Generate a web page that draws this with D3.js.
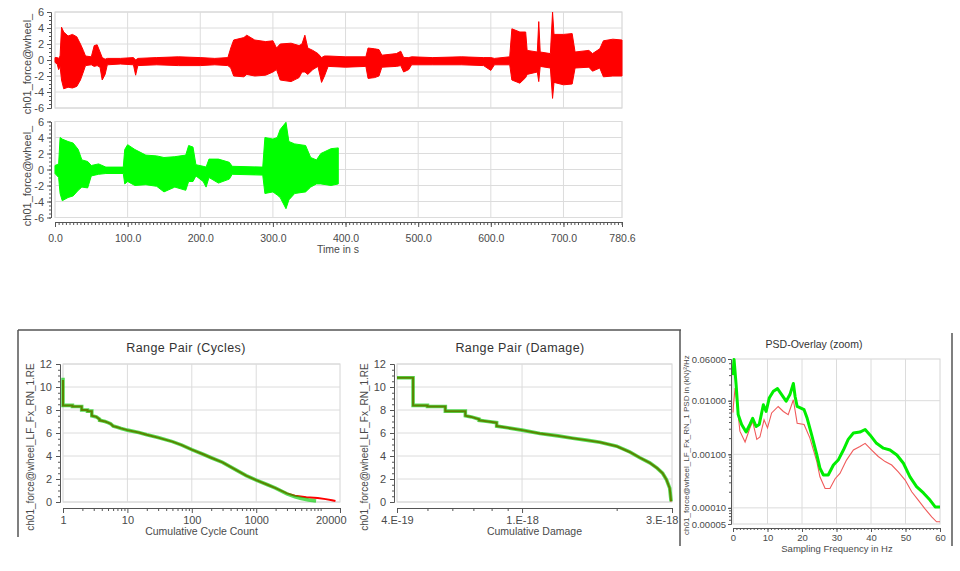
<!DOCTYPE html>
<html><head><meta charset="utf-8">
<script src="https://cdn.jsdelivr.net/npm/d3@7"></script>
<style>
body{margin:0;background:#fff;}
svg text{font-family:"Liberation Sans",Arial,sans-serif;}
</style></head><body>
<svg id="c" width="960" height="571"></svg>
<script>
// ---------- DATA ----------
const timeTicks = [0,100,200,300,400,500,600,700,780.6];
const forceTicks = [-6,-4,-2,0,2,4,6];
// envelope (max / min) of the time signals
const redT  = [0,3,5,7,9,12,18,24,30,35,39,42,50,54,58,62,65,69,72,90,108,111,114,140,170,200,220,238,242,246,260,264,275,290,300,305,310,325,336,340,344,348,355,362,367,371,376,400,428,431,440,446,450,470,476,480,487,491,520,560,590,600,605,626,629,640,648,650,664,666,668,682,685,687,700,712,716,735,740,750,755,768,780.6];
const redHi = [0.3,0.3,0.2,0.5,4.1,3.5,3.0,3.2,2.9,2.0,1.2,0.5,0.4,1.8,1.9,1.0,0.3,0.1,0.2,0.2,0.3,0.0,0.2,0.3,0.4,0.3,0.2,0.3,1.5,2.5,2.8,3.1,2.5,2.3,2.4,1.5,2.0,2.1,1.8,2.0,3.1,1.5,1.2,0.8,0.3,0.5,0.5,0.4,0.4,1.5,1.4,1.3,0.6,0.8,1.1,0.3,0.3,0.4,0.3,0.4,0.3,0.3,0.2,0.4,3.9,3.5,3.5,1.2,1.0,4.8,1.0,0.8,6.0,3.2,3.2,3.3,1.0,1.2,0.8,1.4,2.4,2.6,2.5];
const redLo = [-0.3,-0.5,-1.2,-0.8,-2.5,-3.6,-3.4,-3.5,-3.3,-2.5,-1.5,-0.7,-0.6,-0.8,-0.7,-0.9,-2.5,-1.8,-0.6,-0.5,-0.6,-1.9,-0.7,-0.6,-0.7,-0.7,-0.6,-0.7,-1.0,-2.0,-2.1,-1.8,-2.0,-1.9,-1.5,-1.2,-2.5,-2.7,-2.2,-1.5,-1.5,-1.8,-1.2,-0.8,-2.8,-2.0,-0.8,-0.9,-0.8,-2.3,-2.2,-2.0,-0.9,-0.8,-0.7,-1.5,-1.2,-0.6,-0.6,-0.6,-0.7,-1.3,-0.6,-0.6,-2.5,-2.9,-2.2,-1.8,-1.5,-2.7,-0.8,-1.0,-4.8,-2.8,-3.1,-3.0,-1.0,-0.9,-1.4,-1.0,-2.1,-2.0,-2.0];
const greenT  = [0,5,7,10,18,25,32,37,45,50,60,70,94,96,100,110,125,140,150,165,180,184,190,194,204,208,212,225,240,244,286,289,300,306,310,318,322,330,345,352,360,366,380,390];
const greenHi = [0.5,0.7,4.0,3.8,3.5,3.3,2.5,1.2,1.0,0.5,0.7,0.3,0.3,2.5,3.1,2.5,1.8,1.7,1.5,1.6,1.8,3.0,2.8,0.6,0.4,0.3,1.3,1.3,0.9,0.4,0.3,4.0,3.8,4.0,5.0,5.9,3.5,3.2,3.0,1.5,1.2,2.0,2.6,2.7];
const greenLo = [-0.5,-1.0,-3.0,-3.9,-3.5,-3.3,-2.6,-2.2,-2.3,-0.8,-0.6,-0.5,-0.5,-1.8,-1.5,-2.0,-1.9,-2.1,-2.8,-2.2,-2.6,-1.5,-1.5,-0.8,-1.5,-2.2,-1.0,-1.7,-1.2,-0.6,-0.7,-3.0,-2.8,-3.2,-3.5,-4.9,-3.8,-3.0,-2.8,-2.2,-1.8,-1.8,-2.0,-1.8];

// Range pair (cycles)
const cycTicks = [1,10,100,1000,20000];
const rangeTicks = [0,2,4,6,8,10,12];
const cycGreenN = [1,1,1.4,1.4,1.95,1.95,2.4,2.4,2.8,2.8,3.3,3.7,3.7,4.5,5,5.5,6,7,8,10,15,20,30,50,70,100,150,200,300,500,700,1000,1500,2000,3000,4000,5000,6500,8500];
const cycGreenR = [10.8,8.4,8.4,8.3,8.3,8.0,8.0,7.9,7.9,7.5,7.4,7.2,7.1,7.0,6.9,6.8,6.6,6.5,6.4,6.25,6.05,5.85,5.6,5.25,4.95,4.55,4.15,3.85,3.45,2.75,2.3,1.9,1.5,1.2,0.7,0.45,0.3,0.18,0.08];
const cycRedN = [1,1,1.4,1.4,1.95,1.95,2.4,2.4,2.8,2.8,3.3,3.7,3.7,4.5,5,5.5,6,7,8,10,15,20,30,50,70,100,150,200,300,500,700,1000,1500,2000,3000,4000,6000,9000,12000,15000,17000];
const cycRedR = [10.6,8.4,8.4,8.3,8.3,8.0,8.0,7.9,7.9,7.5,7.4,7.2,7.1,7.0,6.9,6.8,6.6,6.5,6.4,6.25,6.05,5.85,5.6,5.25,4.95,4.55,4.15,3.85,3.45,2.75,2.3,1.9,1.5,1.2,0.75,0.55,0.42,0.35,0.25,0.15,0.08];

// Range pair (damage)
const damTicks = [4e-19,1e-18,3e-18];
const damTickLabels = ["4.E-19","1.E-18","3.E-18"];
const damX = [4e-19,4.5e-19,4.5e-19,5.0e-19,5.0e-19,5.7e-19,5.7e-19,6.6e-19,6.6e-19,6.9e-19,7.3e-19,7.3e-19,7.8e-19,8.3e-19,8.3e-19,9e-19,1e-18,1.14e-18,1.3e-18,1.45e-18,1.6e-18,1.77e-18,2.0e-18,2.2e-18,2.37e-18,2.55e-18,2.69e-18,2.8e-18,2.88e-18,2.95e-18,2.98e-18];
const damRedR   = [10.8,10.8,8.4,8.4,8.3,8.3,7.9,7.9,7.5,7.4,7.2,7.1,7.0,6.9,6.6,6.45,6.25,5.95,5.75,5.55,5.38,5.2,4.85,4.35,3.85,3.4,2.95,2.5,1.95,1.2,0.05];
const damGreenR = [10.8,10.8,8.4,8.4,8.3,8.3,7.9,7.9,7.5,7.4,7.2,7.1,7.0,6.9,6.6,6.45,6.25,5.95,5.75,5.55,5.38,5.2,4.85,4.35,3.85,3.4,2.95,2.5,1.95,1.2,0.05];

// PSD overlay
const freqTicks = [0,10,20,30,40,50,60];
const psdTicks = [0.06,0.01,0.001,0.0001,0.00005];
const psdGreenF = [0,0.3,0.9,1.5,2.5,3.8,4.9,5.7,6.7,7.6,8.8,9.6,10.5,11.7,12.9,14.1,15.4,16.5,17.5,18,18.6,20.6,21.5,22.8,24.3,25.2,26.2,27.6,29.1,30.5,32,33.4,34.9,36.8,38.3,39.7,41.6,43.6,45.5,47.5,49.4,51.3,53.2,55.2,57.1,58.6,60];
const psdGreenV = [0.03,0.059,0.02,0.0055,0.0036,0.0026,0.0036,0.0047,0.0033,0.0036,0.0084,0.0063,0.0112,0.015,0.0168,0.013,0.0098,0.013,0.021,0.012,0.0078,0.0068,0.0047,0.0023,0.00097,0.00055,0.00041,0.00041,0.00063,0.00078,0.0012,0.0019,0.0025,0.0026,0.0029,0.0023,0.0016,0.0013,0.0012,0.00097,0.00068,0.00038,0.00025,0.00019,0.00014,0.000104,0.000104];
const psdRedF = [0,0.1,0.6,1.1,2,3.5,4.9,5.7,6.9,7.8,9,10,11.2,13.1,14.6,16,17.5,18.6,20.6,22.3,24.3,25.2,26.7,28.1,29.6,31,32.9,34.9,36.8,38.3,40.2,42.1,44.1,46,47.9,49.9,51.8,53.7,55.6,57.6,59,60];
const psdRedV = [0.006,0.0078,0.0173,0.0097,0.0027,0.0017,0.0031,0.0041,0.0019,0.0021,0.0044,0.0031,0.0059,0.0078,0.0063,0.0055,0.0104,0.0038,0.0036,0.002,0.00073,0.00038,0.00023,0.00023,0.00035,0.00044,0.00078,0.0012,0.0014,0.0016,0.0012,0.00091,0.00073,0.00063,0.00047,0.00033,0.0002,0.00014,0.000097,0.000068,0.000055,0.000055];

// ---------- DRAW ----------
const svg = d3.select("#c");
const AX = "#555", GRID = "#dcdcdc", TXT = "#4a4a4a";

function styleAxis(g, fs){
  g.select(".domain").attr("stroke",AX);
  g.selectAll(".tick line").attr("stroke",AX);
  g.selectAll(".tick text").attr("fill",TXT).attr("font-size",fs).style("font-family",'"Liberation Sans",Arial,sans-serif');
  return g;
}
function hLines(g, vals, y, x0, x1){
  g.append("g").selectAll("line").data(vals).join("line")
   .attr("x1",x0).attr("x2",x1).attr("y1",d=>y(d)).attr("y2",d=>y(d)).attr("stroke",GRID);
}
function vLines(g, vals, x, y0, y1){
  g.append("g").selectAll("line").data(vals).join("line")
   .attr("y1",y0).attr("y2",y1).attr("x1",d=>x(d)).attr("x2",d=>x(d)).attr("stroke",GRID);
}
function logMinor(d0,d1){
  const out=[]; for(let e=Math.floor(Math.log10(d0));e<=Math.ceil(Math.log10(d1));e++){
    for(let m=1;m<10;m++){const v=m*Math.pow(10,e); if(v>=d0*0.999&&v<=d1*1.001) out.push(v);} } return out;
}

// ===== Top time chart =====
const xT = d3.scaleLinear().domain([0,780.6]).range([55,622]);
const panels = [
  {y:d3.scaleLinear().domain([-6,6]).range([108,12]), t:redT, hi:redHi, lo:redLo, color:"#ff0000", cy:64},
  {y:d3.scaleLinear().domain([-6,6]).range([217.5,121.5]), t:greenT, hi:greenHi, lo:greenLo, color:"#00ff00", cy:176}
];
panels.forEach(p=>{
  const g = svg.append("g");
  const [yb,yt] = p.y.range();
  g.append("rect").attr("x",55).attr("y",yt).attr("width",567).attr("height",yb-yt).attr("fill","#fff").attr("stroke","#cfcfcf");
  hLines(g, forceTicks, p.y, 55, 622);
  vLines(g, timeTicks.slice(1,-1), xT, yt, yb);
  const data = p.t.map((t,i)=>({t, hi:p.hi[i], lo:p.lo[i]}));
  g.append("path").datum(data)
    .attr("d", d3.area().x(d=>xT(d.t)).y0(d=>p.y(d.lo)).y1(d=>p.y(d.hi)))
    .attr("fill",p.color).attr("stroke",p.color).attr("stroke-width",1).attr("stroke-linejoin","miter");
  styleAxis(g.append("g").attr("transform","translate(51,0)")
    .call(d3.axisLeft(p.y).tickValues(forceTicks).tickFormat(d=>String(d)).tickSize(4).tickSizeOuter(0).tickPadding(3)), 11);
  styleAxis(g.append("g").attr("transform","translate(51,0)")
    .call(d3.axisLeft(p.y).tickValues(d3.range(-6,6.01,0.5)).tickFormat("").tickSize(2).tickSizeOuter(0)), 11);
  g.append("text").attr("transform",`translate(31,${p.cy}) rotate(-90)`).attr("text-anchor","middle")
    .attr("font-size",11).attr("fill",TXT).text("ch01_force@wheel_");
});
styleAxis(svg.append("g").attr("transform","translate(0,222)")
  .call(d3.axisBottom(xT).tickValues(timeTicks).tickFormat(d3.format(".1f")).tickSize(5).tickSizeOuter(0).tickPadding(8)), 10.5);
styleAxis(svg.append("g").attr("transform","translate(0,222)")
  .call(d3.axisBottom(xT).tickValues(d3.range(0,781,5)).tickFormat("").tickSize(3).tickSizeOuter(0)), 10.5);
svg.append("text").attr("x",338).attr("y",253).attr("text-anchor","middle").attr("font-size",10.5).attr("fill",TXT).text("Time in s");

// ===== Frames of lower block =====
const frame = svg.append("g").attr("stroke","#555").attr("stroke-width",1.5);
frame.append("line").attr("x1",18).attr("y1",330).attr("x2",681).attr("y2",330);
frame.append("line").attr("x1",18).attr("y1",330).attr("x2",18).attr("y2",537);
frame.append("line").attr("x1",680).attr("y1",330).attr("x2",680).attr("y2",546);
frame.append("line").attr("x1",952).attr("y1",333).attr("x2",952).attr("y2",546);

// ===== Range pair charts =====
function rangeChart(opt){
  const g = svg.append("g");
  const y = d3.scaleLinear().domain([0,12]).range([502,364]);
  const x = opt.x;
  const [x0,x1] = x.range();
  g.append("rect").attr("x",x0).attr("y",364).attr("width",x1-x0).attr("height",138).attr("fill","#fff").attr("stroke","#d4d4d4");
  hLines(g, rangeTicks, y, x0, x1);
  vLines(g, opt.vgrid, x, 364, 502);
  const line = d3.line().x(d=>x(d[0])).y(d=>y(d[1]));
  g.append("path").datum(opt.redX.map((v,i)=>[v,opt.redY[i]])).attr("d",line)
    .attr("fill","none").attr("stroke","#ff0000").attr("stroke-width",2);
  g.append("path").datum(opt.greenX.map((v,i)=>[v,opt.greenY[i]])).attr("d",line)
    .attr("fill","none").attr("stroke","#00cc00").attr("stroke-width",3.6).attr("stroke-opacity",0.65);
  styleAxis(g.append("g").attr("transform",`translate(${x0-3},0)`)
    .call(d3.axisLeft(y).tickValues(rangeTicks).tickFormat(d=>String(d)).tickSize(4).tickSizeOuter(0).tickPadding(4)), 11);
  styleAxis(g.append("g").attr("transform",`translate(${x0-3},0)`)
    .call(d3.axisLeft(y).tickValues(d3.range(0,12.01,0.5)).tickFormat("").tickSize(2).tickSizeOuter(0)), 11);
  const xa = styleAxis(g.append("g").attr("transform","translate(0,508)")
    .call(d3.axisBottom(x).tickValues(opt.ticks).tickFormat(opt.fmt).tickSize(5).tickSizeOuter(0).tickPadding(3)), 11);
  styleAxis(g.append("g").attr("transform","translate(0,508)")
    .call(d3.axisBottom(x).tickValues(opt.minor).tickFormat("").tickSize(3).tickSizeOuter(0)), 11);
  const last = xa.selectAll(".tick text").filter((d,i,n)=>i===n.length-1);
  last.attr("text-anchor","end").attr("x",6);
  g.append("text").attr("x",opt.titleX).attr("y",352).attr("text-anchor","middle").attr("font-size",12.5)
    .attr("letter-spacing",0.4).attr("fill","#333").text(opt.title);
  g.append("text").attr("x",(x0+x1)/2).attr("y",535).attr("text-anchor","middle").attr("font-size",10.5)
    .attr("fill",TXT).text(opt.xTitle);
  g.append("text").attr("transform",`translate(${x0-29},447) rotate(-90)`).attr("text-anchor","middle")
    .attr("font-size",10).attr("fill",TXT).text("ch01_force@wheel_LF_Fx_RN_1.RE");
}
const xC = d3.scaleLog().domain([1,20000]).range([63,340]);
rangeChart({x:xC, ticks:cycTicks, fmt:d3.format("d"), minor:logMinor(1,20000).filter(v=>!cycTicks.includes(v)),
  vgrid:[10,100,1000], redX:cycRedN, redY:cycRedR, greenX:cycGreenN, greenY:cycGreenR,
  title:"Range Pair (Cycles)", titleX:186, xTitle:"Cumulative Cycle Count"});
const xD = d3.scaleLog().domain([4e-19,3e-18]).range([397,672]);
rangeChart({x:xD, ticks:damTicks, fmt:(d,i)=>damTickLabels[i], minor:[5e-19,6e-19,7e-19,8e-19,9e-19,2e-18],
  vgrid:[1e-18], redX:damX, redY:damRedR, greenX:damX, greenY:damGreenR,
  title:"Range Pair (Damage)", titleX:520, xTitle:"Cumulative Damage"});

// ===== PSD overlay =====
{
  const g = svg.append("g");
  const x = d3.scaleLinear().domain([0,60]).range([733,940]);
  const y = d3.scaleLog().domain([0.00005,0.06]).range([524,359]);
  g.append("rect").attr("x",733).attr("y",359).attr("width",207).attr("height",165).attr("fill","#fff").attr("stroke","#d4d4d4");
  hLines(g, [0.01,0.001,0.0001], y, 733, 940);
  vLines(g, [10,20,30,40,50], x, 359, 524);
  const line = d3.line().x(d=>x(d[0])).y(d=>y(d[1]));
  g.append("path").datum(psdRedF.map((f,i)=>[f,psdRedV[i]])).attr("d",line)
    .attr("fill","none").attr("stroke","#f05a5a").attr("stroke-width",1.1);
  g.append("path").datum(psdGreenF.map((f,i)=>[f,psdGreenV[i]])).attr("d",line)
    .attr("fill","none").attr("stroke","#00ee00").attr("stroke-width",3).attr("stroke-linejoin","round");
  styleAxis(g.append("g").attr("transform","translate(731,0)")
    .call(d3.axisLeft(y).tickValues(psdTicks).tickFormat(d3.format(".5f")).tickSize(3).tickSizeOuter(0).tickPadding(2)), 9.5);
  styleAxis(g.append("g").attr("transform","translate(731,0)")
    .call(d3.axisLeft(y).tickValues(logMinor(0.00005,0.06)).tickFormat("").tickSize(2).tickSizeOuter(0)), 9.5);
  styleAxis(g.append("g").attr("transform","translate(0,528)")
    .call(d3.axisBottom(x).tickValues(freqTicks).tickFormat(d3.format("d")).tickSize(4).tickSizeOuter(0).tickPadding(2)), 9.5);
  styleAxis(g.append("g").attr("transform","translate(0,528)")
    .call(d3.axisBottom(x).tickValues(d3.range(0,61,1)).tickFormat("").tickSize(2).tickSizeOuter(0)), 9.5);
  g.append("text").attr("x",814).attr("y",348).attr("text-anchor","middle").attr("font-size",10.5)
    .attr("fill","#333").text("PSD-Overlay (zoom)");
  g.append("text").attr("x",837).attr("y",552).attr("text-anchor","middle").attr("font-size",9.5)
    .attr("fill",TXT).text("Sampling Frequency in Hz");
  g.append("text").attr("transform","translate(689,445) rotate(-90)").attr("text-anchor","middle")
    .attr("font-size",8).attr("fill",TXT).text("ch01_force@wheel_LF_Fx_RN_1 PSD in (kN)²/Hz");
}
</script>
</body></html>
